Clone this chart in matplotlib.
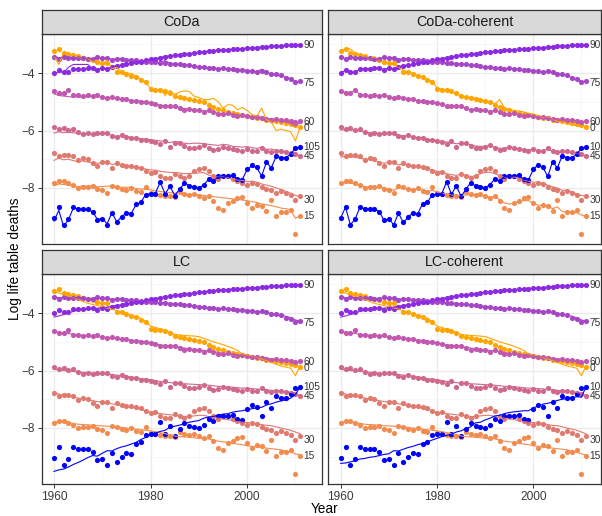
import matplotlib.pyplot as plt
from matplotlib.ticker import FixedLocator

plt.rcParams['font.family'] = ['Liberation Sans', 'DejaVu Sans']

years = list(range(1960, 2012))
ages = [0, 15, 30, 45, 60, 75, 90, 105]
age_colors = ['#FFA500', '#F28C4E', '#E07A6E', '#D0688A', '#C157AE', '#A546C6', '#8A2BE2', '#0000FF']
label_y = [-5.91, -8.97, -8.41, -6.88, -5.72, -4.33, -3.01, -6.59]
panel_names = ['CoDa', 'CoDa-coherent', 'LC', 'LC-coherent']

# observed log life table deaths (points, same in every panel)
obs_0 = [-3.22, -3.16, -3.30, -3.34, -3.36, -3.42, -3.48, -3.52, -3.56, -3.62, -3.66, -3.64, -3.80,
         -3.95, -3.98, -4.04, -4.10, -4.15, -4.24, -4.32, -4.55, -4.58, -4.60, -4.64, -4.70, -4.80,
         -4.84, -4.86, -4.90, -4.94, -4.98, -5.02, -5.10, -5.18, -5.26, -5.30, -5.34, -5.38, -5.42,
         -5.46, -5.50, -5.52, -5.55, -5.57, -5.62, -5.64, -5.68, -5.71, -5.74, -5.78, -5.82, -5.86]
obs_15 = [-7.81, -7.77, -7.77, -7.83, -7.88, -8.00, -7.97, -7.95, -7.93, -8.04, -8.06, -8.18, -7.93,
          -7.97, -8.04, -8.06, -8.00, -8.12, -8.15, -7.95, -8.18, -8.20, -8.24, -8.27, -8.27, -8.30,
          -8.14, -8.22, -8.24, -8.22, -8.29, -8.35, -8.29, -8.46, -8.70, -8.76, -8.53, -8.44, -8.36,
          -8.30, -8.53, -8.70, -8.58, -8.64, -8.81, -8.42, -8.99, -8.85, -8.85, -8.76, -9.60, -8.99]
obs_30 = [-6.77, -6.88, -6.85, -6.86, -6.90, -7.02, -6.96, -7.00, -7.14, -7.23, -7.08, -7.08, -7.31,
          -7.14, -7.19, -7.23, -7.25, -7.27, -7.31, -7.42, -7.48, -7.46, -7.60, -7.65, -7.65, -7.50,
          -7.60, -7.65, -7.60, -7.42, -7.34, -7.31, -7.42, -7.60, -7.69, -7.60, -7.58, -7.69, -7.77,
          -7.83, -7.89, -7.83, -7.85, -7.95, -8.04, -8.08, -8.18, -8.10, -8.18, -8.24, -8.41, -8.27]
obs_45 = [-5.86, -5.94, -5.92, -5.98, -5.95, -6.04, -6.12, -6.10, -6.11, -6.09, -6.10, -6.07, -6.19,
          -6.21, -6.15, -6.21, -6.26, -6.26, -6.33, -6.33, -6.35, -6.40, -6.46, -6.38, -6.58, -6.45,
          -6.42, -6.55, -6.60, -6.60, -6.58, -6.50, -6.62, -6.68, -6.66, -6.56, -6.62, -6.66, -6.68,
          -6.70, -6.65, -6.70, -6.73, -6.62, -6.73, -6.76, -6.73, -6.70, -6.76, -6.79, -6.81, -6.90]
obs_60 = [-4.62, -4.68, -4.71, -4.58, -4.75, -4.78, -4.80, -4.78, -4.80, -4.76, -4.82, -4.88, -4.82,
          -4.86, -4.90, -4.92, -4.96, -4.96, -4.99, -5.00, -5.05, -5.08, -5.16, -5.15, -5.14, -5.16,
          -5.22, -5.28, -5.24, -5.28, -5.30, -5.34, -5.30, -5.36, -5.42, -5.44, -5.40, -5.46, -5.48,
          -5.47, -5.50, -5.54, -5.52, -5.56, -5.60, -5.62, -5.60, -5.64, -5.64, -5.66, -5.70, -5.68]
obs_75 = [-3.45, -3.50, -3.44, -3.46, -3.47, -3.48, -3.49, -3.52, -3.50, -3.44, -3.47, -3.48, -3.53,
          -3.50, -3.51, -3.53, -3.55, -3.54, -3.57, -3.60, -3.60, -3.62, -3.64, -3.64, -3.67, -3.68,
          -3.70, -3.72, -3.73, -3.76, -3.79, -3.79, -3.82, -3.84, -3.85, -3.82, -3.86, -3.86, -3.89,
          -3.88, -3.92, -3.94, -3.96, -3.93, -3.98, -4.02, -4.04, -4.07, -4.17, -4.22, -4.30, -4.28]
obs_90 = [-4.00, -3.90, -3.97, -3.97, -3.86, -3.85, -3.85, -3.84, -3.82, -3.88, -3.82, -3.85, -3.78,
          -3.74, -3.72, -3.70, -3.66, -3.62, -3.60, -3.56, -3.52, -3.50, -3.46, -3.44, -3.40, -3.38,
          -3.36, -3.35, -3.32, -3.30, -3.28, -3.27, -3.24, -3.22, -3.21, -3.19, -3.18, -3.17, -3.15,
          -3.16, -3.13, -3.12, -3.11, -3.09, -3.08, -3.07, -3.06, -3.05, -3.04, -3.03, -3.02, -3.01]
obs_105 = [-9.04, -8.67, -9.28, -9.08, -8.67, -8.72, -8.74, -8.74, -8.82, -9.13, -9.08, -9.28, -8.88,
           -9.20, -9.02, -8.86, -8.90, -8.55, -8.50, -8.24, -8.22, -8.20, -7.78, -8.22, -7.93, -8.29,
           -8.05, -7.81, -7.93, -7.95, -8.00, -7.88, -7.69, -7.74, -7.60, -7.60, -7.58, -7.55, -7.70,
           -7.72, -7.35, -7.19, -7.28, -7.60, -7.08, -7.30, -6.88, -6.95, -6.95, -6.83, -6.61, -6.58]

# fitted values, CoDa
coda_0 = [-3.42, -3.70, -3.30, -3.33, -3.38, -3.45, -3.50, -3.50, -3.60, -3.55, -3.72, -3.55, -3.85,
          -3.80, -3.95, -4.00, -4.02, -4.10, -4.22, -4.30, -4.55, -4.62, -4.55, -4.78, -4.60, -4.75,
          -4.66, -4.62, -4.64, -4.80, -4.85, -4.92, -4.93, -4.88, -5.00, -5.22, -5.10, -5.12, -5.28,
          -5.20, -5.30, -5.45, -5.50, -5.22, -5.62, -5.70, -6.00, -5.95, -6.00, -6.04, -6.36, -5.86]
coda_15 = [-7.92, -7.86, -7.88, -7.90, -7.94, -7.96, -7.92, -7.94, -7.92, -7.96, -7.95, -7.94, -7.92,
           -7.96, -7.98, -7.97, -7.98, -8.02, -8.04, -8.05, -8.06, -8.10, -8.12, -8.15, -8.16, -8.18,
           -8.18, -8.20, -8.22, -8.24, -8.24, -8.26, -8.28, -8.30, -8.32, -8.34, -8.36, -8.38, -8.40,
           -8.42, -8.44, -8.48, -8.50, -8.56, -8.58, -8.62, -8.65, -8.70, -8.72, -8.76, -9.05, -8.98]
coda_30 = [-7.04, -6.96, -7.02, -7.00, -7.05, -7.08, -7.06, -7.10, -7.12, -7.14, -7.12, -7.10, -7.18,
           -7.16, -7.20, -7.22, -7.24, -7.26, -7.30, -7.34, -7.37, -7.38, -7.42, -7.44, -7.46, -7.46,
           -7.48, -7.50, -7.50, -7.48, -7.48, -7.46, -7.55, -7.60, -7.62, -7.60, -7.64, -7.70, -7.72,
           -7.74, -7.78, -7.76, -7.80, -7.86, -7.90, -7.94, -8.00, -8.05, -8.12, -8.18, -8.26, -8.30]
coda_45 = [-6.09, -6.04, -6.08, -6.05, -6.08, -6.10, -6.12, -6.10, -6.11, -6.10, -6.08, -6.10, -6.18,
           -6.20, -6.18, -6.20, -6.24, -6.26, -6.28, -6.30, -6.32, -6.34, -6.36, -6.38, -6.42, -6.38,
           -6.40, -6.44, -6.46, -6.44, -6.44, -6.46, -6.48, -6.50, -6.52, -6.48, -6.50, -6.55, -6.56,
           -6.58, -6.56, -6.60, -6.62, -6.58, -6.66, -6.64, -6.70, -6.68, -6.75, -6.80, -6.85, -6.88]
coda_60 = [-4.72, -4.78, -4.80, -4.82, -4.84, -4.82, -4.84, -4.82, -4.80, -4.80, -4.84, -4.86, -4.84,
           -4.87, -4.90, -4.92, -4.95, -4.96, -4.98, -5.00, -5.04, -5.08, -5.12, -5.14, -5.15, -5.17,
           -5.20, -5.24, -5.25, -5.27, -5.30, -5.32, -5.31, -5.35, -5.40, -5.42, -5.42, -5.45, -5.47,
           -5.48, -5.50, -5.52, -5.53, -5.55, -5.58, -5.60, -5.61, -5.63, -5.70, -5.75, -5.85, -5.72]
coda_75 = [-3.42, -3.47, -3.44, -3.45, -3.46, -3.47, -3.49, -3.50, -3.49, -3.46, -3.47, -3.49, -3.52,
           -3.50, -3.51, -3.53, -3.54, -3.55, -3.57, -3.59, -3.60, -3.62, -3.63, -3.56, -3.66, -3.68,
           -3.70, -3.72, -3.73, -3.76, -3.78, -3.79, -3.81, -3.83, -3.84, -3.83, -3.86, -3.87, -3.88,
           -3.89, -3.91, -3.93, -3.95, -3.87, -3.98, -4.02, -4.05, -4.08, -4.14, -4.20, -4.32, -4.28]
coda_90 = [-4.05, -3.95, -3.98, -3.80, -3.70, -3.70, -3.70, -3.70, -3.85, -3.86, -3.83, -3.84, -3.78,
           -3.74, -3.72, -3.69, -3.66, -3.62, -3.59, -3.56, -3.52, -3.49, -3.47, -3.40, -3.41, -3.38,
           -3.36, -3.34, -3.32, -3.30, -3.28, -3.26, -3.24, -3.22, -3.21, -3.19, -3.18, -3.17, -3.15,
           -3.15, -3.13, -3.12, -3.10, -3.09, -3.08, -3.07, -3.06, -3.05, -3.04, -3.03, -3.02, -3.01]
coda_105 = [-9.15, -8.78, -9.34, -9.10, -8.70, -8.72, -8.75, -8.76, -8.82, -9.10, -9.05, -9.25, -8.86,
            -9.18, -9.00, -8.87, -8.88, -8.58, -8.50, -8.22, -8.20, -8.18, -7.80, -8.20, -7.95, -8.25,
            -8.05, -7.83, -7.92, -7.96, -8.00, -7.90, -7.70, -7.74, -7.62, -7.62, -7.60, -7.58, -7.68,
            -7.70, -7.36, -7.22, -7.30, -7.58, -7.10, -7.30, -6.90, -6.95, -6.95, -6.82, -6.62, -6.58]

# fitted values, CoDa-coherent
coh_0 = [-3.20, -3.18, -3.16, -3.30, -3.36, -3.40, -3.52, -3.42, -3.58, -3.62, -3.66, -3.70, -3.80,
         -3.90, -3.96, -4.02, -4.08, -4.14, -4.22, -4.30, -4.52, -4.56, -4.60, -4.64, -4.72, -4.80,
         -4.84, -4.86, -4.88, -4.92, -4.98, -5.02, -5.08, -4.92, -5.22, -5.26, -5.30, -5.32, -5.35,
         -5.40, -5.42, -5.48, -5.55, -5.52, -5.60, -5.68, -5.70, -5.75, -5.80, -5.83, -5.84, -5.84]
coh_15 = [-7.84, -7.82, -7.82, -7.86, -7.90, -7.96, -7.96, -7.96, -7.96, -8.00, -8.04, -8.08, -8.00,
          -8.00, -8.04, -8.05, -8.04, -8.08, -8.12, -8.08, -8.14, -8.18, -8.22, -8.24, -8.26, -8.28,
          -8.24, -8.24, -8.25, -8.26, -8.28, -8.32, -8.32, -8.40, -8.52, -8.56, -8.52, -8.48, -8.44,
          -8.44, -8.52, -8.60, -8.60, -8.64, -8.72, -8.66, -8.82, -8.84, -8.86, -8.86, -8.94, -9.00]
coh_30 = [-6.92, -6.90, -6.90, -6.94, -6.96, -7.00, -7.00, -7.04, -7.10, -7.14, -7.10, -7.12, -7.20,
          -7.16, -7.20, -7.24, -7.26, -7.28, -7.32, -7.38, -7.42, -7.44, -7.50, -7.54, -7.56, -7.52,
          -7.56, -7.60, -7.58, -7.50, -7.46, -7.45, -7.50, -7.58, -7.62, -7.60, -7.62, -7.66, -7.72,
          -7.76, -7.80, -7.80, -7.84, -7.90, -7.96, -8.00, -8.08, -8.08, -8.14, -8.20, -8.26, -8.28]
coh_45 = [-5.98, -5.98, -5.96, -6.00, -6.02, -6.06, -6.08, -6.09, -6.10, -6.10, -6.11, -6.12, -6.16,
          -6.18, -6.18, -6.22, -6.25, -6.27, -6.30, -6.32, -6.35, -6.38, -6.40, -6.42, -6.46, -6.45,
          -6.46, -6.50, -6.54, -6.55, -6.55, -6.52, -6.58, -6.62, -6.62, -6.58, -6.62, -6.64, -6.66,
          -6.68, -6.66, -6.69, -6.71, -6.65, -6.72, -6.75, -6.74, -6.74, -6.77, -6.80, -6.83, -6.88]

# fitted values, LC
lc_0 = [-3.25, -3.30, -3.36, -3.42, -3.47, -3.53, -3.60, -3.66, -3.70, -3.74, -3.78, -3.82, -3.86,
        -3.92, -3.98, -4.03, -4.08, -4.13, -4.18, -4.30, -4.45, -4.50, -4.55, -4.60, -4.68, -4.74,
        -4.76, -4.78, -4.79, -4.80, -4.82, -4.88, -4.94, -5.00, -5.05, -5.10, -5.16, -5.22, -5.30,
        -5.42, -5.46, -5.50, -5.54, -5.60, -5.66, -5.72, -5.78, -5.84, -5.88, -5.92, -6.18, -5.82]
lc_15 = [-7.78, -7.79, -7.80, -7.82, -7.84, -7.87, -7.88, -7.89, -7.90, -7.92, -7.93, -7.94, -7.95,
         -7.97, -7.98, -8.00, -8.02, -8.04, -8.06, -8.08, -8.10, -8.13, -8.16, -8.20, -8.24, -8.28,
         -8.30, -8.31, -8.32, -8.34, -8.36, -8.37, -8.38, -8.42, -8.46, -8.48, -8.50, -8.53, -8.56,
         -8.58, -8.62, -8.64, -8.66, -8.68, -8.70, -8.72, -8.74, -8.76, -8.80, -8.84, -8.90, -8.94]
lc_30 = [-6.77, -6.82, -6.86, -6.89, -6.92, -6.96, -6.99, -7.02, -7.05, -7.08, -7.10, -7.12, -7.16,
         -7.19, -7.22, -7.25, -7.28, -7.31, -7.35, -7.40, -7.46, -7.48, -7.50, -7.52, -7.54, -7.56,
         -7.58, -7.60, -7.60, -7.58, -7.56, -7.56, -7.60, -7.64, -7.66, -7.69, -7.71, -7.74, -7.78,
         -7.80, -7.81, -7.83, -7.85, -7.88, -7.91, -7.92, -7.96, -8.00, -8.04, -8.08, -8.14, -8.21]
lc_45 = [-5.96, -5.98, -6.00, -6.01, -6.03, -6.05, -6.06, -6.08, -6.09, -6.10, -6.11, -6.12, -6.14,
         -6.16, -6.18, -6.20, -6.22, -6.25, -6.28, -6.30, -6.32, -6.35, -6.38, -6.40, -6.42, -6.44,
         -6.45, -6.46, -6.47, -6.48, -6.49, -6.50, -6.51, -6.53, -6.55, -6.56, -6.57, -6.58, -6.60,
         -6.61, -6.62, -6.63, -6.64, -6.66, -6.67, -6.69, -6.70, -6.72, -6.74, -6.76, -6.80, -6.88]
lc_60 = [-4.64, -4.67, -4.69, -4.71, -4.74, -4.76, -4.78, -4.79, -4.80, -4.81, -4.83, -4.85, -4.86,
         -4.88, -4.90, -4.92, -4.94, -4.96, -4.98, -5.00, -5.04, -5.07, -5.11, -5.13, -5.14, -5.16,
         -5.19, -5.22, -5.24, -5.26, -5.28, -5.30, -5.32, -5.34, -5.37, -5.40, -5.42, -5.44, -5.46,
         -5.48, -5.50, -5.52, -5.53, -5.55, -5.57, -5.59, -5.61, -5.63, -5.65, -5.68, -5.74, -5.70]
lc_75 = [-3.45, -3.46, -3.46, -3.46, -3.47, -3.48, -3.48, -3.49, -3.49, -3.48, -3.49, -3.50, -3.51,
         -3.51, -3.52, -3.53, -3.54, -3.55, -3.57, -3.59, -3.60, -3.62, -3.63, -3.64, -3.66, -3.68,
         -3.70, -3.72, -3.73, -3.75, -3.77, -3.79, -3.81, -3.82, -3.84, -3.84, -3.86, -3.87, -3.88,
         -3.89, -3.91, -3.93, -3.94, -3.95, -3.98, -4.01, -4.04, -4.07, -4.11, -4.16, -4.24, -4.28]
lc_90 = [-4.14, -4.10, -4.05, -4.00, -3.94, -3.90, -3.88, -3.86, -3.84, -3.83, -3.81, -3.79, -3.76,
         -3.73, -3.71, -3.68, -3.65, -3.62, -3.59, -3.56, -3.52, -3.49, -3.46, -3.43, -3.40, -3.38,
         -3.36, -3.34, -3.32, -3.30, -3.28, -3.26, -3.24, -3.22, -3.21, -3.19, -3.18, -3.16, -3.15,
         -3.14, -3.13, -3.12, -3.11, -3.09, -3.08, -3.07, -3.06, -3.05, -3.04, -3.03, -3.02, -3.01]
lc_105 = [-9.51, -9.46, -9.43, -9.36, -9.27, -9.20, -9.12, -9.03, -8.96, -8.98, -8.88, -8.79, -8.80,
          -8.72, -8.66, -8.62, -8.56, -8.50, -8.40, -8.33, -8.22, -8.18, -8.12, -8.08, -7.98, -7.94,
          -7.90, -7.86, -7.80, -7.77, -7.74, -7.66, -7.62, -7.60, -7.55, -7.52, -7.50, -7.45, -7.42,
          -7.40, -7.36, -7.33, -7.30, -7.28, -7.20, -7.16, -7.10, -7.06, -7.02, -6.96, -6.84, -6.56]

# fitted values, LC-coherent (age 105 differs visibly from LC)
lcc_105 = [-9.23, -9.22, -9.18, -9.14, -9.08, -9.06, -9.02, -9.00, -8.96, -8.92, -8.90, -8.79, -8.80,
           -8.74, -8.68, -8.64, -8.58, -8.54, -8.48, -8.42, -8.36, -8.30, -8.26, -8.22, -8.14, -8.10,
           -8.02, -7.96, -7.82, -7.80, -7.72, -7.66, -7.58, -7.56, -7.50, -7.46, -7.44, -7.42, -7.40,
           -7.40, -7.30, -7.24, -7.17, -7.14, -7.10, -7.04, -7.00, -6.98, -6.94, -6.91, -6.93, -6.54]

observed = [obs_0, obs_15, obs_30, obs_45, obs_60, obs_75, obs_90, obs_105]
fitted = {
    'CoDa': [coda_0, coda_15, coda_30, coda_45, coda_60, coda_75, coda_90, coda_105],
    'CoDa-coherent': [coh_0, coh_15, coh_30, coh_45, obs_60, obs_75, obs_90, obs_105],
    'LC': [lc_0, lc_15, lc_30, lc_45, lc_60, lc_75, lc_90, lc_105],
    'LC-coherent': [lc_0, lc_15, lc_30, lc_45, lc_60, lc_75, lc_90, lcc_105],
}

W, H = 602, 516
fig = plt.figure(figsize=(W / 100, H / 100), dpi=100)

def rect(l, t, r, b):
    return [l / W, 1 - b / H, (r - l) / W, (b - t) / H]

# pixel boxes: panel, strip, x-limits
boxes = [
    ((42, 34, 322, 244), (42, 10, 322, 34), (1957.52, 2015.5)),
    ((328, 34, 601, 244), (328, 10, 601, 34), (1957.36, 2014.06)),
    ((42, 274, 322, 484), (42, 250, 322, 274), (1957.52, 2015.5)),
    ((328, 274, 601, 484), (328, 250, 601, 274), (1957.36, 2014.06)),
]

for i, name in enumerate(panel_names):
    pbox, sbox, xl = boxes[i]
    ax = fig.add_axes(rect(*pbox))
    ax.set_xlim(*xl)
    ax.set_ylim(-9.95, -2.64)
    ax.xaxis.set_major_locator(FixedLocator([1960, 1980, 2000]))
    ax.xaxis.set_minor_locator(FixedLocator([1970, 1990, 2010]))
    ax.yaxis.set_major_locator(FixedLocator([-8, -6, -4]))
    ax.yaxis.set_minor_locator(FixedLocator([-9, -7, -5, -3]))
    ax.grid(which='major', color='#EBEBEB', lw=0.9)
    ax.grid(which='minor', color='#F4F4F4', lw=0.5)
    ax.set_axisbelow(True)
    for sp in ax.spines.values():
        sp.set_color('#333333')
        sp.set_linewidth(0.9)
    ax.tick_params(which='minor', length=0)
    ax.tick_params(which='major', length=3, width=0.7, color='#333333',
                   labelsize=8.6, labelcolor='#3A3A3A', pad=2)
    if i in (0, 2):
        ax.set_yticklabels(['\u22128', '\u22126', '\u22124'])
    else:
        ax.tick_params(axis='y', length=0, labelleft=False)
    if i in (2, 3):
        ax.set_xticklabels(['1960', '1980', '2000'])
    else:
        ax.tick_params(axis='x', length=0, labelbottom=False)

    for k in range(len(ages)):
        ax.scatter(years, observed[k], s=14, color=age_colors[k], linewidths=0, zorder=3)
    for k in range(len(ages)):
        ax.plot(years, fitted[name][k], color=age_colors[k], lw=0.8, zorder=4)
    for k, a in enumerate(ages):
        ax.text(2011.7, label_y[k], str(a), fontsize=7.3, color='#333333',
                ha='left', va='center', clip_on=False, zorder=5)

    sax = fig.add_axes(rect(*sbox))
    sax.set_facecolor('#D9D9D9')
    sax.set_xticks([])
    sax.set_yticks([])
    for sp in sax.spines.values():
        sp.set_color('#333333')
        sp.set_linewidth(0.9)
    sax.text(0.5, 0.5, name, transform=sax.transAxes, ha='center', va='center',
             fontsize=10.3, color='#1A1A1A')

fig.text(15 / W, 1 - 259 / H, 'Log life table deaths', rotation=90,
         ha='center', va='center', fontsize=9.8, color='black')
fig.text(325 / W, 1 - 509 / H, 'Year', ha='center', va='center',
         fontsize=9.8, color='black')

fig.savefig('out.png', dpi=100)
